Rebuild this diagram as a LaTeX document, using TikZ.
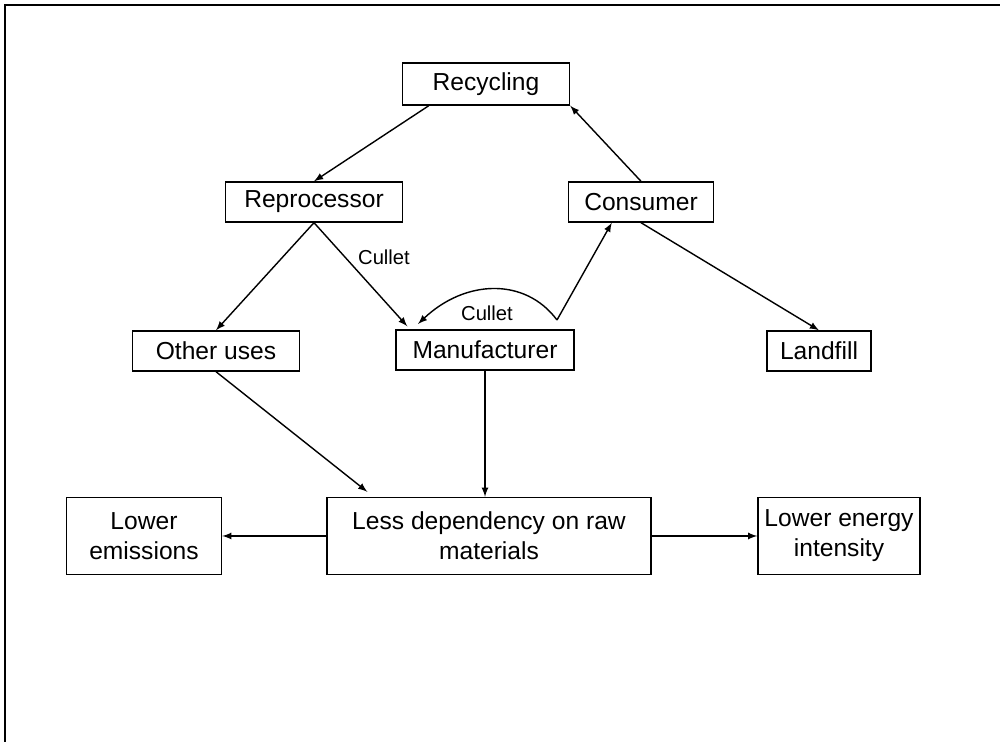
\documentclass[tikz,border=0pt]{standalone}
\usepackage{fontspec}
\setmainfont{Liberation Sans}
\usepackage{tikz}

\tikzset{
    box/.style={draw, thick, font=\fontsize{14}{17}\selectfont, align=center, inner sep=2pt},
    flow/.style={->, >=latex, thick},
    tag/.style={font=\fontsize{11.5}{13}\selectfont}
}

\begin{document}
\begin{tikzpicture}
        \useasboundingbox (0,0) rectangle (20,14.84);
        \draw[thick] (0.1,0) -- (0.1,14.74) -- (20,14.74);

        \node[box, minimum width=3.34cm, minimum height=0.84cm] (rec) at (9.72,13.16) {Recycling};
        \node[box, minimum width=3.54cm, minimum height=0.8cm] (repro) at (6.28,10.8) {Reprocessor};
        \node[box, minimum width=2.9cm, minimum height=0.8cm] (cons) at (12.82,10.8) {Consumer};
        \node[box, minimum width=3.34cm, minimum height=0.8cm] (other) at (4.32,7.82) {Other uses};
        \node[box, minimum width=3.56cm, minimum height=0.8cm] (mfg) at (9.70,7.84) {Manufacturer};
        \node[box, minimum width=2.08cm, minimum height=0.8cm] (land) at (16.38,7.82) {Landfill};
        \node[box, minimum width=3.1cm, minimum height=1.54cm] (emis) at (2.88,4.12) {Lower\\emissions};
        \node[box, minimum width=6.48cm, minimum height=1.54cm] (less) at (9.78,4.12) {Less dependency on raw\\materials};
        \node[box, minimum width=3.24cm, minimum height=1.54cm] (energy) at (16.78,4.12) {Lower energy\\intensity};

        \coordinate (loop) at (11.14,8.44);
        \coordinate (cullin) at (8.36,8.36);

        \draw[flow] ([xshift=0.54cm]rec.south west) -- (repro.north);
        \draw[flow] (cons.north) -- (rec.south east);
        \draw[flow] (repro.south) -- (other.north);
        \draw[flow] (repro.south) -- ([xshift=0.24cm,yshift=0.06cm]mfg.north west);
        \draw[flow] (loop) -- ([xshift=0.88cm]cons.south west);
        \draw[flow] (loop) .. controls (10.5,9.3) and (9.3,9.25) .. (cullin);
        \draw[flow] (cons.south) -- (land.north);
        \draw[flow] (other.south) -- ([xshift=0.82cm,yshift=0.1cm]less.north west);
        \draw[flow] (mfg.south) -- (mfg.south |- less.north);
        \draw[flow] (less.west) -- (emis.east);
        \draw[flow] (less.east) -- (energy.west);

        \node[tag] (cul1) at (7.68,9.70) {Cullet};
        \node[tag] (cul2) at (9.74,8.58) {Cullet};
    \end{tikzpicture}
\end{document}
